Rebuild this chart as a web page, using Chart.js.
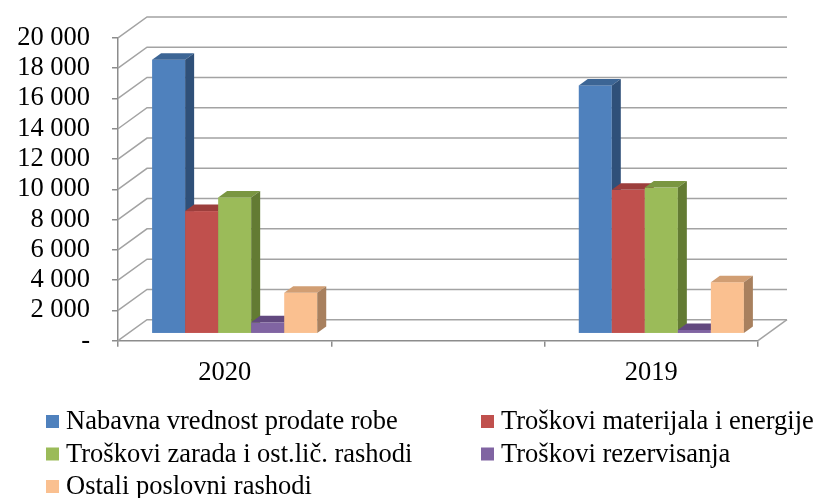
<!DOCTYPE html>
<html>
<head>
<meta charset="utf-8">
<script src="https://cdn.jsdelivr.net/npm/chart.js@4.4.1/dist/chart.umd.min.js"></script>
<style>
  html, body { margin: 0; padding: 0; background: #fff; }
</style>
</head>
<body>
<canvas id="chart" width="818" height="498" style="width:818px;height:498px"></canvas>
<script>
// data (thousands)
const categories = ['2020', '', '2019'];
const seriesNames = [
  'Nabavna vrednost prodate robe',
  'Troškovi materijala i energije',
  'Troškovi zarada i ost.lič. rashodi',
  'Troškovi rezervisanja',
  'Ostali poslovni rashodi'
];
const nabavna = [18100, null, 16400];
const materijal = [8100, null, 9500];
const zarade = [9000, null, 9650];
const rezervisanja = [750, null, 250];
const ostali = [2700, null, 3400];
const yTickLabels = ['-', '2 000', '4 000', '6 000', '8 000', '10 000',
  '12 000', '14 000', '16 000', '18 000', '20 000'];

const frontColors = ['#4F81BD', '#C0504D', '#9BBB59', '#8064A2', '#FAC090'];
const topColors = ['#3C6595', '#9C3E3C', '#7A9641', '#62497F', '#D19E73'];
const sideColors = ['#2F5079', '#843533', '#637B33', '#4F3B68', '#A8805E'];

const FONT = 'Liberation Serif';
const FONT_SIZE = 26.5;
const WALL_DX = 29, WALL_DY = 21;   // depth of the 3d box
const BAR_DX = 10, BAR_DY = 7;      // where bar fronts sit inside the box
const BAR_DEPTH_X = 9, BAR_DEPTH_Y = 6.5;

// fake excel 3d look: back wall grid, bar tops and sides, legend
const box3d = {
  id: 'box3d',
  beforeDatasetsDraw(chart) {
    const { ctx, chartArea: a, scales: { y } } = chart;
    ctx.save();
    ctx.strokeStyle = '#a3a3a3';
    ctx.lineWidth = 1.5;
    y.ticks.forEach(t => {
      const py = y.getPixelForValue(t.value);
      ctx.beginPath();
      ctx.moveTo(a.left, py);
      ctx.lineTo(a.left + WALL_DX, py - WALL_DY);
      ctx.lineTo(a.right + WALL_DX, py - WALL_DY);
      ctx.stroke();
    });
    ctx.beginPath();
    ctx.moveTo(a.right, a.bottom);
    ctx.lineTo(a.right + WALL_DX, a.bottom - WALL_DY);
    ctx.stroke();
    ctx.restore();
  },
  beforeDatasetDraw() {
    return false; // drawn below, in left-to-right order
  },
  afterDatasetsDraw(chart) {
    const ctx = chart.ctx;
    ctx.save();
    ctx.translate(BAR_DX, -BAR_DY);
    chart.data.datasets.forEach((ds, di) => {
      const meta = chart.getDatasetMeta(di);
      meta.data.forEach((bar, i) => {
        if (ds.data[i] == null) return;
        const l = bar.x - bar.width / 2, r = bar.x + bar.width / 2;
        const t = bar.y, b = bar.base;
        ctx.fillStyle = frontColors[di];
        ctx.fillRect(l, t, r - l, b - t);
        ctx.fillStyle = topColors[di];
        ctx.beginPath();
        ctx.moveTo(l, t);
        ctx.lineTo(l + BAR_DEPTH_X, t - BAR_DEPTH_Y);
        ctx.lineTo(r + BAR_DEPTH_X, t - BAR_DEPTH_Y);
        ctx.lineTo(r, t);
        ctx.closePath();
        ctx.fill();
        ctx.fillStyle = sideColors[di];
        ctx.beginPath();
        ctx.moveTo(r, t);
        ctx.lineTo(r + BAR_DEPTH_X, t - BAR_DEPTH_Y);
        ctx.lineTo(r + BAR_DEPTH_X, b - BAR_DEPTH_Y);
        ctx.lineTo(r, b);
        ctx.closePath();
        ctx.fill();
      });
    });
    ctx.restore();
  },
  afterDraw(chart) {
    const ctx = chart.ctx;
    const cols = [46, 481], rows = [429, 461.5, 494];
    ctx.save();
    ctx.font = FONT_SIZE + 'px "' + FONT + '"';
    ctx.textBaseline = 'alphabetic';
    chart.data.datasets.forEach((ds, i) => {
      const x = cols[i % 2], yb = rows[Math.floor(i / 2)];
      ctx.fillStyle = frontColors[i];
      ctx.fillRect(x, yb - 14, 13, 13);
      ctx.fillStyle = '#000';
      ctx.fillText(ds.label, x + 20, yb);
    });
    ctx.restore();
  }
};

const seriesData = [nabavna, materijal, zarade, rezervisanja, ostali];

new Chart(document.getElementById('chart'), {
  type: 'bar',
  data: {
    labels: categories,
    datasets: seriesData.map((d, i) => ({
      label: seriesNames[i],
      data: d,
      backgroundColor: frontColors[i],
      categoryPercentage: 0.774,
      barPercentage: 1
    }))
  },
  options: {
    responsive: false,
    animation: false,
    layout: { padding: { top: 34.5, right: 60, bottom: 99.5, left: 0 } },
    plugins: { legend: { display: false }, tooltip: { enabled: false } },
    scales: {
      x: {
        offset: true,
        grid: { offset: true, drawOnChartArea: false, tickLength: 6, color: '#8c8c8c', lineWidth: 1.5 },
        border: { color: '#8c8c8c', width: 1.5 },
        ticks: { padding: 10, color: '#000', autoSkip: false, maxRotation: 0, font: { family: FONT, size: FONT_SIZE } }
      },
      y: {
        min: 0,
        max: 20000,
        grid: { drawOnChartArea: false, tickLength: 6, color: '#8c8c8c', lineWidth: 1.5 },
        border: { color: '#8c8c8c', width: 1.5 },
        ticks: {
          stepSize: 2000,
          autoSkip: false,
          padding: 22,
          color: '#000',
          font: { family: FONT, size: FONT_SIZE },
          callback: (v, i) => yTickLabels[i]
        },
        afterFit(scale) { scale.width = 118; }
      }
    }
  },
  plugins: [box3d]
});
</script>
</body>
</html>
